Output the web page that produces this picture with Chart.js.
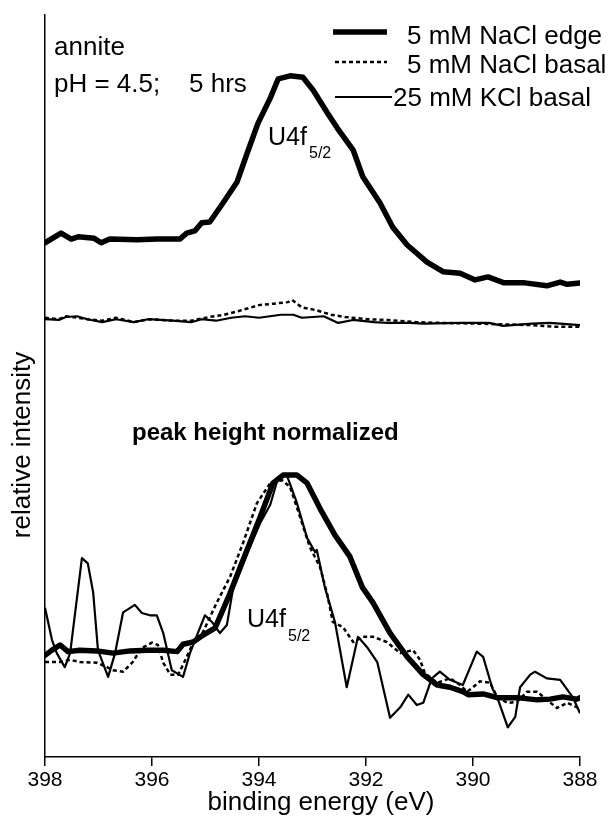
<!DOCTYPE html>
<html>
<head>
<meta charset="utf-8">
<script src="https://cdn.jsdelivr.net/npm/chart.js@4.4.1/dist/chart.umd.min.js"></script>
<style>
  body { margin: 0; background: #fff; }
  #wrap { width: 612px; height: 820px; }
</style>
</head>
<body>
<div id="wrap"><canvas id="xps" width="612" height="820"></canvas></div>
<script>
// binding energy (eV), relative intensity (arbitrary units, axis 0..100)
const edgeTop = [
  [398.00, 69.3], [397.70, 70.6], [397.51, 69.8], [397.38, 70.1], [397.08, 69.9],
  [396.95, 69.3], [396.79, 69.8], [396.28, 69.7], [395.91, 69.8], [395.48, 69.8],
  [395.35, 70.6], [395.20, 70.9], [395.07, 72.0], [394.92, 72.1], [394.67, 74.7],
  [394.41, 77.5], [394.22, 81.4], [394.02, 85.4], [393.79, 88.8], [393.64, 91.4],
  [393.42, 91.8], [393.18, 91.6], [392.99, 89.9], [392.73, 86.9], [392.54, 84.8],
  [392.24, 81.8], [392.06, 78.2], [391.74, 74.7], [391.50, 71.4], [391.23, 69.0],
  [390.86, 66.7], [390.56, 65.4], [390.24, 65.2], [389.96, 64.3], [389.72, 64.7],
  [389.42, 63.9], [389.03, 63.9], [388.62, 63.5], [388.37, 64.0], [388.24, 63.7],
  [388.00, 63.9]
];
const naclTop = [
  [398.00, 59.2], [397.74, 59.0], [397.61, 59.4], [397.40, 59.2], [397.21, 59.0],
  [396.93, 58.8], [396.67, 59.2], [396.34, 58.6], [396.07, 59.0], [395.61, 58.8],
  [395.27, 58.8], [394.93, 59.3], [394.65, 59.6], [394.43, 60.0], [394.19, 60.5],
  [394.00, 60.9], [393.72, 61.1], [393.46, 61.3], [393.38, 61.6], [393.20, 60.6],
  [392.92, 60.2], [392.65, 59.6], [392.39, 59.3], [391.98, 59.0], [391.59, 58.9],
  [391.05, 58.6], [390.58, 58.5], [389.91, 58.4], [388.90, 58.2], [388.50, 58.0],
  [388.00, 58.0]
];
const kclTop = [
  [398.00, 59.0], [397.74, 58.9], [397.61, 59.3], [397.40, 59.4], [397.21, 59.0],
  [396.93, 58.6], [396.67, 59.0], [396.34, 58.6], [396.07, 59.0], [395.61, 58.8],
  [395.27, 58.6], [395.07, 59.0], [394.80, 58.8], [394.52, 59.2], [394.26, 59.4],
  [394.00, 59.2], [393.59, 59.6], [393.36, 59.6], [393.20, 59.2], [392.79, 59.4],
  [392.52, 58.5], [392.24, 58.9], [391.85, 58.6], [391.59, 58.5], [391.18, 58.5],
  [390.92, 58.4], [390.24, 58.5], [389.70, 58.5], [389.44, 58.1], [388.90, 58.4],
  [388.56, 58.5], [388.00, 58.2]
];
// peak height normalized traces
const edgeNorm = [
  [398.00, 13.7], [397.87, 14.4], [397.72, 15.1], [397.57, 14.2], [397.35, 14.4],
  [397.03, 14.3], [396.73, 14.0], [396.41, 14.3], [396.09, 14.4], [395.79, 14.4],
  [395.53, 14.2], [395.42, 15.2], [395.23, 15.5], [395.05, 16.4], [394.82, 17.4],
  [394.54, 22.1], [394.30, 26.5], [393.98, 32.3], [393.74, 36.9], [393.55, 38.0],
  [393.29, 38.0], [393.10, 36.9], [392.83, 33.1], [392.58, 29.9], [392.30, 27.0],
  [392.07, 22.9], [391.87, 20.8], [391.55, 16.7], [391.23, 13.5], [390.93, 11.1],
  [390.67, 9.7], [390.43, 9.4], [390.19, 8.8], [390.09, 8.4], [389.81, 8.5],
  [389.55, 8.0], [389.18, 8.0], [388.80, 7.7], [388.56, 7.8], [388.32, 8.1],
  [388.06, 7.8], [388.00, 8.0]
];
const naclNorm = [
  [398.00, 12.8], [397.72, 12.8], [397.53, 13.1], [397.35, 12.8], [397.03, 12.7],
  [396.84, 12.1], [396.73, 11.7], [396.54, 11.5], [396.36, 12.8], [396.19, 14.7],
  [396.00, 15.4], [395.89, 15.1], [395.79, 12.7], [395.66, 11.1], [395.51, 11.1],
  [395.35, 13.5], [395.23, 15.4], [395.05, 16.8], [394.79, 20.8], [394.54, 24.3],
  [394.30, 28.8], [394.04, 34.2], [393.79, 36.9], [393.57, 37.3], [393.42, 36.4],
  [393.23, 32.3], [393.05, 28.3], [392.86, 25.6], [392.73, 22.1], [392.62, 18.2],
  [392.43, 17.5], [392.24, 15.5], [392.06, 16.2], [391.87, 16.2], [391.61, 15.5],
  [391.36, 14.0], [391.12, 14.4], [390.99, 13.1], [390.90, 11.3], [390.67, 10.0],
  [390.43, 10.6], [390.24, 9.7], [390.11, 8.8], [390.00, 9.4], [389.87, 10.2],
  [389.68, 10.0], [389.55, 8.1], [389.36, 7.3], [389.18, 7.4], [388.99, 8.8],
  [388.80, 8.8], [388.62, 7.7], [388.43, 6.6], [388.24, 7.3], [388.06, 6.7],
  [388.00, 6.7]
];
const kclNorm = [
  [398.00, 20.1], [397.87, 15.8], [397.78, 14.0], [397.63, 12.1], [397.53, 14.0],
  [397.31, 26.8], [397.20, 26.1], [397.10, 22.2], [397.01, 14.4], [396.82, 10.8],
  [396.69, 14.0], [396.54, 19.5], [396.32, 20.5], [396.19, 19.4], [396.04, 19.1],
  [395.91, 19.1], [395.79, 16.7], [395.63, 11.7], [395.42, 10.8], [395.29, 14.0],
  [395.16, 16.4], [395.01, 19.1], [394.88, 18.2], [394.73, 16.7], [394.60, 17.8],
  [394.49, 22.5], [394.22, 27.5], [393.98, 31.5], [393.79, 34.0], [393.64, 37.7],
  [393.48, 38.0], [393.29, 34.2], [393.10, 29.5], [392.95, 27.6], [392.92, 27.9],
  [392.77, 22.9], [392.58, 18.2], [392.36, 9.4], [392.15, 16.2], [391.98, 14.8],
  [391.79, 12.8], [391.55, 5.3], [391.36, 6.7], [391.21, 8.4], [391.05, 7.0],
  [390.93, 7.3], [390.77, 10.6], [390.62, 11.5], [390.43, 10.4], [390.19, 9.7],
  [389.93, 14.2], [389.81, 13.5], [389.64, 9.3], [389.53, 7.7], [389.35, 4.0],
  [389.21, 5.4], [389.12, 9.4], [388.93, 11.1], [388.84, 11.5], [388.62, 10.6],
  [388.37, 10.4], [388.13, 8.0], [388.00, 5.9]
];
const xTicks = [398, 396, 394, 392, 390, 388];

const FONT = '"Liberation Sans", Arial, Helvetica, sans-serif';

function toXY(rows) {
  return rows.map((r) => ({ x: r[0], y: r[1] }));
}

const edgeStyle = { borderColor: '#000', borderWidth: 5.5, borderJoinStyle: 'round', borderCapStyle: 'round' };
const naclStyle = { borderColor: '#000', borderWidth: 2.5, borderDash: [4, 3] };
const kclStyle = { borderColor: '#000', borderWidth: 2.2, borderJoinStyle: 'round' };

// all the free text on the figure, plus the hand-made legend
const textLayer = {
  id: 'textLayer',
  afterDraw(chart) {
    const ctx = chart.ctx;
    ctx.save();
    ctx.fillStyle = '#000';
    ctx.strokeStyle = '#000';
    ctx.textBaseline = 'alphabetic';
    ctx.textAlign = 'left';

    ctx.font = '26px ' + FONT;
    ctx.fillText('annite', 54, 55);
    ctx.fillText('pH = 4.5;', 54, 92);
    ctx.fillText('5 hrs', 189, 92);

    // U4f5/2 labels
    ctx.font = '25px ' + FONT;
    ctx.fillText('U4f', 268, 145);
    ctx.fillText('U4f', 247, 627);
    ctx.font = '16px ' + FONT;
    ctx.fillText('5/2', 309, 158);
    ctx.fillText('5/2', 288, 641);

    ctx.font = 'bold 24px ' + FONT;
    ctx.fillText('peak height normalized', 132, 440);

    // legend
    ctx.font = '26px ' + FONT;
    ctx.lineWidth = 5.5;
    ctx.beginPath(); ctx.moveTo(333, 32); ctx.lineTo(387, 32); ctx.stroke();
    ctx.fillText('5 mM NaCl edge', 407, 44);
    ctx.lineWidth = 2.5;
    ctx.setLineDash([4, 3]);
    ctx.beginPath(); ctx.moveTo(335, 62); ctx.lineTo(387, 62); ctx.stroke();
    ctx.setLineDash([]);
    ctx.fillText('5 mM NaCl basal', 407, 73);
    ctx.lineWidth = 2;
    ctx.beginPath(); ctx.moveTo(335, 97); ctx.lineTo(392, 97); ctx.stroke();
    ctx.fillText('25 mM KCl basal', 393, 106);

    // x axis title
    ctx.textAlign = 'center';
    ctx.fillText('binding energy (eV)', 321, 810);

    // y axis title
    ctx.translate(30, 445);
    ctx.rotate(-Math.PI / 2);
    ctx.fillText('relative intensity', 0, 0);
    ctx.restore();
  }
};

new Chart(document.getElementById('xps'), {
  type: 'line',
  data: {
    datasets: [
      { label: '5 mM NaCl edge', data: toXY(edgeTop), ...edgeStyle },
      { label: '5 mM NaCl basal', data: toXY(naclTop), ...naclStyle },
      { label: '25 mM KCl basal', data: toXY(kclTop), ...kclStyle },
      { label: '5 mM NaCl edge (normalized)', data: toXY(edgeNorm), ...edgeStyle },
      { label: '5 mM NaCl basal (normalized)', data: toXY(naclNorm), ...naclStyle },
      { label: '25 mM KCl basal (normalized)', data: toXY(kclNorm), ...kclStyle },
    ],
  },
  options: {
    responsive: false,
    animation: false,
    devicePixelRatio: 1,
    layout: { padding: { left: 45, right: 32, top: 15, bottom: 0 } },
    elements: { point: { radius: 0 }, line: { tension: 0, fill: false } },
    plugins: { legend: { display: false }, tooltip: { enabled: false } },
    scales: {
      x: {
        type: 'linear',
        reverse: true,
        min: 388,
        max: 398,
        afterBuildTicks: (axis) => {
          axis.ticks = xTicks.map((v) => ({ value: v }));
        },
        afterFit: (axis) => {
          axis.height = 63;
        },
        grid: { drawOnChartArea: false, drawTicks: true, tickLength: 9, color: '#000', lineWidth: 1.5 },
        border: { display: true, color: '#000', width: 1.5 },
        ticks: { color: '#000', font: { size: 21, family: FONT }, padding: 2, maxRotation: 0 },
        title: { display: false },
      },
      y: {
        min: 0,
        max: 100,
        afterFit: (axis) => {
          axis.width = 0;
        },
        grid: { display: false },
        border: { display: true, color: '#000', width: 1.5 },
        ticks: { display: false },
      },
    },
  },
  plugins: [textLayer],
});
</script>
</body>
</html>
